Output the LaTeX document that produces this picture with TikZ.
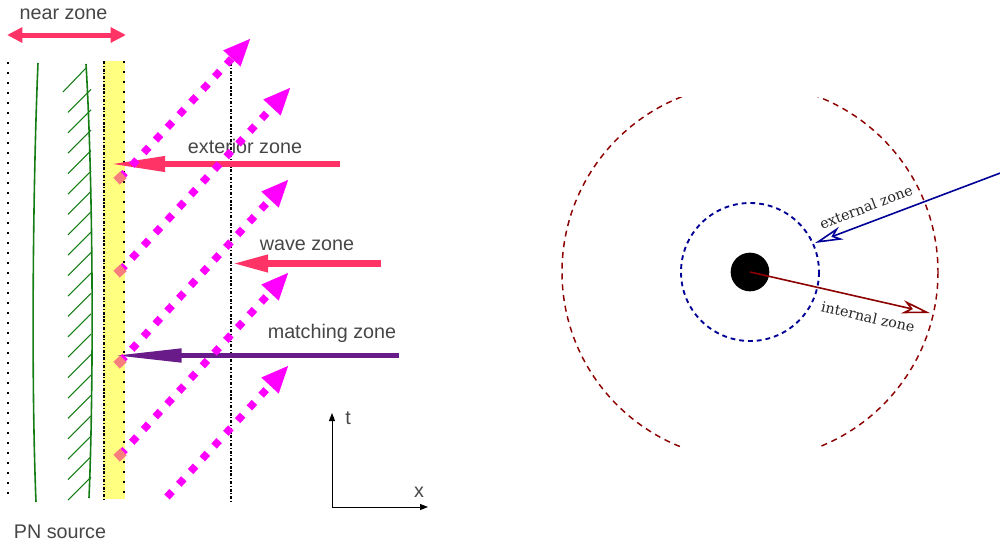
\documentclass[tikz,border=0pt]{standalone}
\usepackage{fontspec}
\setmainfont{Liberation Sans}
\newfontfamily\serifzone{DejaVu Serif}
\usetikzlibrary{arrows.meta}
\definecolor{pinkred}{RGB}{255,51,102}
\definecolor{magentadot}{RGB}{255,0,255}
\definecolor{salmondot}{RGB}{248,125,125}
\definecolor{bandyellow}{RGB}{255,255,128}
\definecolor{matchpurple}{RGB}{106,27,138}
\definecolor{srcgreen}{RGB}{20,125,20}
\definecolor{navyzone}{RGB}{0,0,150}
\definecolor{redzone}{RGB}{140,0,0}
\definecolor{labelgray}{RGB}{70,70,70}
\tikzset{
  lbl/.style={text=labelgray, font=\fontsize{14.8pt}{17pt}\selectfont, inner sep=0pt, anchor=base},
  zlbl/.style={text=black!85, font=\serifzone\fontsize{10.7pt}{12pt}\selectfont, inner sep=0pt},
  sparsedots/.style={black, line width=1.4pt, dash pattern=on 1.4pt off 6.1pt},
  densedashdot/.style={black, line width=1pt, dash pattern=on 2.2pt off 1.3pt on 0.9pt off 1.3pt},
  wavedots/.style={magentadot, line width=5.6pt, dash pattern=on 5.6pt off 7.4pt, -{Triangle[length=21pt,width=16pt]}},
  startmark/.style={fill=salmondot, rotate=43, minimum size=7pt, inner sep=0pt},
  hatch/.style={srcgreen, line width=0.8pt},
  worldline/.style={srcgreen, line width=1.2pt},
  axis/.style={black, line width=0.75pt, -{Triangle[length=6pt,width=4.5pt]}},
  zonearrow/.style={line width=1.2pt, -{Stealth[open,length=21pt,width=10pt,inset=6pt]}}
}
\begin{document}
\begin{tikzpicture}[x=0.75pt,y=-0.75pt]
\useasboundingbox (0,0) rectangle (1000,547);
% ---------- left panel ----------
\fill[bandyellow] (103,61) rectangle (125,499);
\draw[sparsedots] (8,62) -- (8,500);
\draw[densedashdot] (104,61) -- (104,500);
\draw[sparsedots] (124,61) -- (124,499);
\draw[densedashdot] (231,63) -- (231,503);
% world lines of the source
\draw[worldline] (38,63) .. controls (33,180) and (31,380) .. (36,502);
\draw[worldline] (86,64) .. controls (93,180) and (94,380) .. (89,498);
\draw[hatch] (63,92) -- (86,68);
\foreach \i in {1,...,20} {
  \draw[hatch] (68,{92+20.4*\i}) -- (91,{92+20.4*\i-23});
}
% near zone
\node[lbl] (near) at (63.5,19) {near zone};
\coordinate (nzl) at (7,35);
\coordinate (nzr) at (126,35);
\draw[pinkred, line width=3.75pt, {Triangle[length=11.5pt,width=11pt]}-{Triangle[length=11.5pt,width=11pt]}] (nzl) -- (nzr);
% horizontal arrows
\coordinate (exT) at (340,164); \coordinate (exH) at (107,164);
\coordinate (waT) at (381,263.5); \coordinate (waH) at (232,263.5);
\coordinate (maT) at (399,355.5); \coordinate (maH) at (111,355.5);
\draw[pinkred, line width=5pt, -{Triangle[length=43.5pt,width=10.5pt]}] (exT) -- (exH);
\draw[pinkred, line width=5pt, -{Triangle[length=27pt,width=12pt]}] (waT) -- (waH);
\draw[matchpurple, line width=4.3pt, -{Triangle[length=53pt,width=9.5pt]}] (maT) -- (maH);
\node[lbl] (exlbl) at (245,153) {exterior zone};
\node[lbl] (walbl) at (307,250.5) {wave zone};
\node[lbl] (malbl) at (332,338) {matching zone};
% outgoing waves
\coordinate (a0) at (120,178); \coordinate (a1) at (251,38);
\coordinate (b0) at (120,271); \coordinate (b1) at (291,87);
\coordinate (c0) at (120,362); \coordinate (c1) at (289,179);
\coordinate (d0) at (120,455); \coordinate (d1) at (289,272);
\coordinate (e0) at (167,497); \coordinate (e1) at (289,365);
\draw[wavedots] (a0) -- (a1);
\draw[wavedots] (b0) -- (b1);
\draw[wavedots] (c0) -- (c1);
\draw[wavedots] (d0) -- (d1);
\draw[wavedots] (e0) -- (e1);
\node[startmark] (ma) at (a0) {};
\node[startmark] (mb) at (b0) {};
\node[startmark] (mc) at (c0) {};
\node[startmark] (md) at (d0) {};
% axes
\coordinate (orig) at (332,507);
\coordinate (tend) at (332,413);
\coordinate (xend) at (428,507);
\draw[axis] (orig) -- (tend);
\draw[axis] (orig) -- (xend);
\node[lbl] (tlbl) at (348,424) {t};
\node[lbl] (xlbl) at (419,497) {x};
\node[lbl] (pn) at (60,538) {PN source};
% ---------- right panel ----------
\coordinate (ctr) at (750,272);
\begin{scope}
  \clip (540,97) rectangle (960,446);
  \draw[redzone, line width=1.1pt, dash pattern=on 4.5pt off 3.6pt] (ctr) circle[radius=188];
\end{scope}
\draw[navyzone, line width=1.4pt, dash pattern=on 3.6pt off 3pt] (ctr) circle[radius=69];
\node[circle, fill=black, minimum size=29pt, inner sep=0pt] (bh) at (ctr) {};
\coordinate (intTip) at (930,313);
\coordinate (extStart) at (1003,172);
\coordinate (extTip) at (815,243);
\draw[zonearrow, redzone] (bh.center) -- (intTip);
\draw[zonearrow, navyzone] (extStart) -- (extTip);
\node[zlbl, rotate=20.7] (extlbl) at (866,207) {external zone};
\node[zlbl, rotate=-12.8] (intlbl) at (868,317) {internal zone};
\end{tikzpicture}
\end{document}
